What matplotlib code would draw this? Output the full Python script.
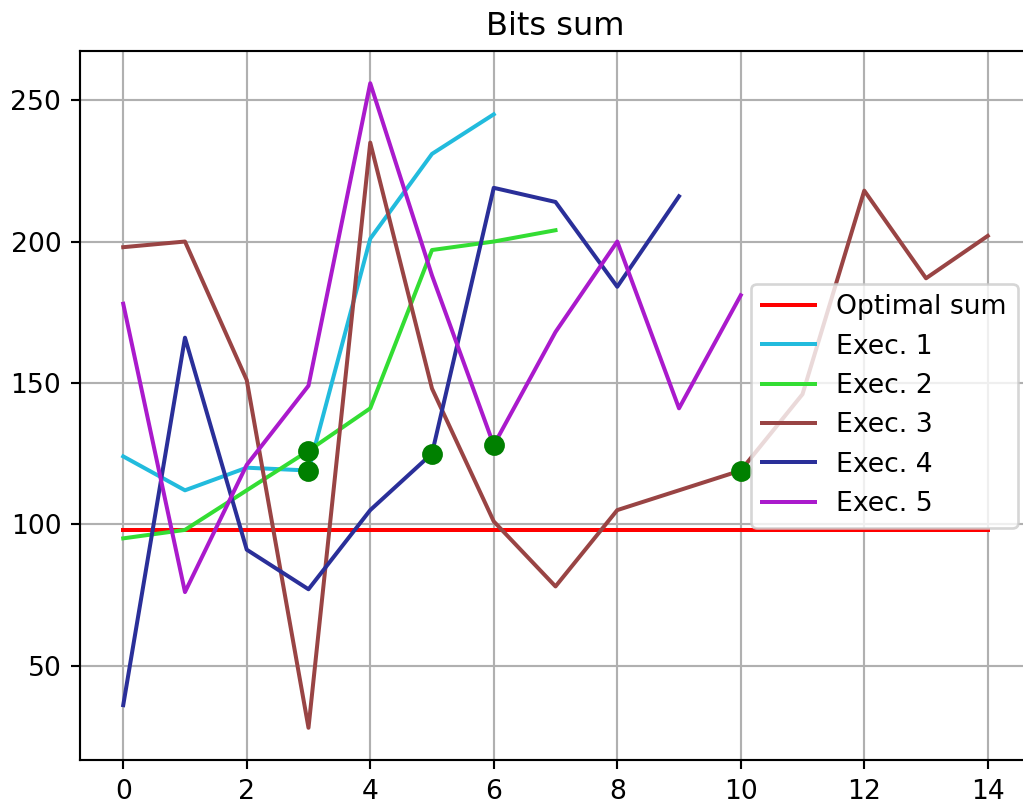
import matplotlib
matplotlib.use('Agg')
import matplotlib.pyplot as plt

# values
optimal = 98
n_points = 15
exec1 = [124, 112, 120, 119, 201, 231, 245]
exec2 = [95, 98, 112, 126, 141, 197, 200, 204]
exec3 = [198, 200, 151, 28, 235, 148, 101, 78, 105, 112, 119, 146, 218, 187, 202]
exec4 = [36, 166, 91, 77, 105, 125, 219, 214, 184, 216]
exec5 = [178, 76, 121, 149, 256, 188, 128, 168, 200, 141, 181]
found_x = [3, 3, 5, 6, 10]
found_y = [126, 119, 125, 128, 119]

labels = ['Exec. 1', 'Exec. 2', 'Exec. 3', 'Exec. 4', 'Exec. 5']
colors = ['#22bbdd', '#33dd33', '#994444', '#2a2f99', '#aa1acc']

dpi = 192
fig = plt.figure(figsize=(1023 / dpi, 803 / dpi), dpi=dpi)
ax = fig.add_axes([80 / 1023, 43 / 803, 951 / 1023, 709 / 803])

ax.plot(range(n_points), [optimal] * n_points, color='#ff0000', label='Optimal sum')
for data, label, color in zip([exec1, exec2, exec3, exec4, exec5], labels, colors):
    ax.plot(range(len(data)), data, color=color, label=label)
ax.plot(found_x, found_y, 'o', color='green', markersize=6.8)

ax.grid(True)
ax.set_xticks(range(0, 15, 2))
ax.set_yticks([50, 100, 150, 200, 250])
plt.title('Bits sum')
plt.legend(loc='center right')
plt.savefig('out.png', dpi=dpi)
